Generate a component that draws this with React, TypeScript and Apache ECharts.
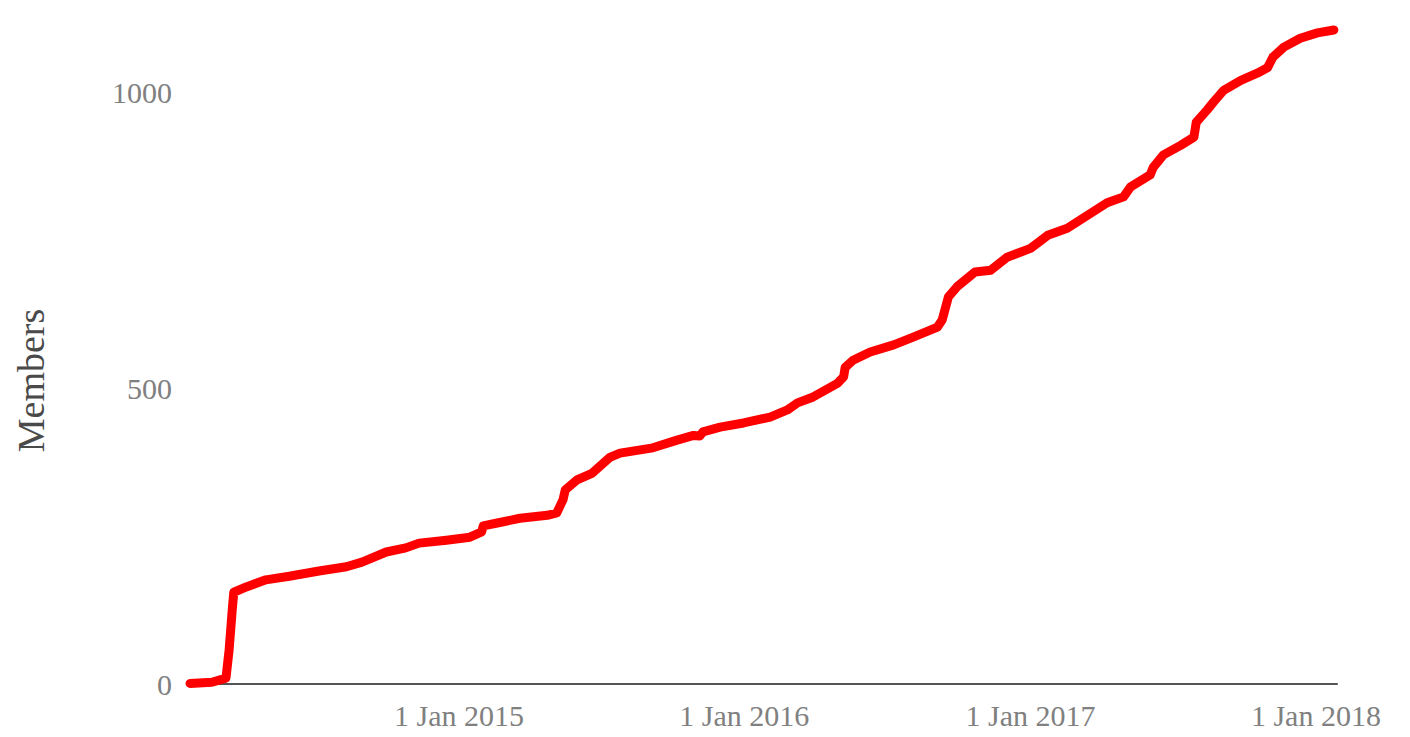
import React, { useEffect, useRef } from "react";
import * as echarts from "echarts";

const dates: string[] = [
  "2014-01-22", "2014-02-19", "2014-03-09", "2014-03-13", "2014-03-17", "2014-03-19",
  "2014-04-04", "2014-04-29", "2014-05-29", "2014-07-06", "2014-08-10", "2014-08-30",
  "2014-09-30", "2014-10-25", "2014-11-11", "2014-12-16", "2015-01-15", "2015-01-30",
  "2015-02-01", "2015-02-19", "2015-03-20", "2015-04-24", "2015-05-06", "2015-05-14",
  "2015-05-17", "2015-06-01", "2015-06-20", "2015-07-13", "2015-07-26", "2015-09-06",
  "2015-10-07", "2015-10-28", "2015-11-05", "2015-11-09", "2015-12-01", "2015-12-31",
  "2016-02-03", "2016-02-25", "2016-03-09", "2016-03-29", "2016-04-29", "2016-05-07",
  "2016-05-09", "2016-05-19", "2016-06-10", "2016-07-10", "2016-08-04", "2016-09-04",
  "2016-09-10", "2016-09-18", "2016-09-29", "2016-10-22", "2016-11-11", "2016-12-02",
  "2017-01-01", "2017-01-23", "2017-02-17", "2017-03-15", "2017-04-09", "2017-04-30",
  "2017-05-09", "2017-06-03", "2017-06-07", "2017-06-20", "2017-07-12", "2017-07-29",
  "2017-08-01", "2017-08-15", "2017-08-23", "2017-09-05", "2017-09-27", "2017-10-18",
  "2017-10-31", "2017-11-07", "2017-11-21", "2017-12-12", "2018-01-03", "2018-01-24",
];

const members: number[] = [
  1, 3, 10, 57, 125, 155,
  164, 176, 182, 191, 198, 206,
  223, 230, 238, 243, 248, 257,
  267, 272, 280, 285, 289, 311,
  328, 345, 356, 383, 390, 399,
  412, 420, 419, 426, 434, 441,
  451, 463, 475, 485, 508, 519,
  535, 547, 561, 573, 586, 603,
  615, 654, 671, 696, 699, 721,
  736, 758, 770, 792, 813, 823,
  840, 860, 873, 894, 910, 924,
  949, 970, 983, 1003, 1020, 1032,
  1041, 1059, 1076, 1091, 1100, 1105,
];

const yearTicks: number[] = [2015, 2016, 2017, 2018];
const yTicks: number[] = [0, 500, 1000];

const fontFamily = "'Liberation Serif', 'DejaVu Serif', serif";

const toTime = (s: string) => {
  const [y, m, d] = s.split("-").map(Number);
  return Date.UTC(y, m - 1, d);
};

export default function App() {
  const ref = useRef<HTMLDivElement>(null);

  useEffect(() => {
    if (!ref.current) return;
    const chart = echarts.init(ref.current, undefined, { renderer: "svg" });
    const seriesData = dates.map((d, i) => [toTime(d), members[i]]);
    chart.setOption({
      animation: false,
      backgroundColor: "#ffffff",
      grid: {
        left: 190,
        right: 73,
        top: 27,
        bottom: 53,
        containLabel: false,
        outerBoundsMode: "none",
      },
      xAxis: {
        type: "value",
        min: Date.UTC(2014, 0, 22),
        max: Date.UTC(2018, 0, 28),
        axisLine: { show: true, lineStyle: { color: "#555555", width: 2 } },
        axisTick: { show: false },
        splitLine: { show: false },
        axisLabel: {
          customValues: yearTicks.map((y) => Date.UTC(y, 0, 1)),
          formatter: (v: number) => `1 Jan ${new Date(v).getUTCFullYear()}`,
          color: "#808080",
          fontFamily,
          fontSize: 30,
          margin: 16,
          hideOverlap: false,
        },
      },
      yAxis: {
        type: "value",
        min: 0,
        max: 1110,
        name: "Members",
        nameLocation: "middle",
        nameRotate: 90,
        nameGap: 140,
        nameTextStyle: {
          color: "#4a4a4a",
          fontFamily,
          fontSize: 38,
          padding: [0, 50, 0, 0],
        },
        axisLine: { show: false },
        axisTick: { show: false },
        splitLine: { show: false },
        axisLabel: {
          customValues: yTicks,
          formatter: (v: number) => String(v),
          color: "#808080",
          fontFamily,
          fontSize: 30,
          margin: 18,
        },
      },
      series: [
        {
          type: "line",
          data: seriesData,
          showSymbol: false,
          symbol: "none",
          smooth: false,
          clip: false,
          lineStyle: { color: "#ff0000", width: 9, join: "round", cap: "round" },
        },
      ],
    });
    return () => chart.dispose();
  }, []);

  return (
    <div
      ref={ref}
      style={{ position: "fixed", left: 0, top: 0, width: 1410, height: 737, background: "#fff" }}
    />
  );
}
